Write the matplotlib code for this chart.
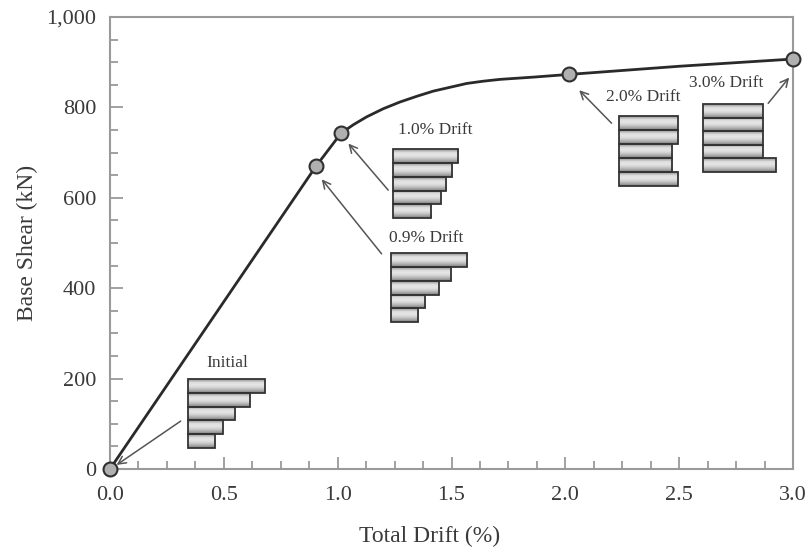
import numpy as np
import matplotlib
matplotlib.use("Agg")
import matplotlib.pyplot as plt
from matplotlib.patches import Rectangle
from matplotlib.ticker import MultipleLocator, FuncFormatter

# ---------------- data ----------------
curve_drift = [0.0, 0.905, 1.015, 1.07, 1.127, 1.20, 1.274, 1.35, 1.42, 1.567, 1.64, 1.713, 1.86, 2.017, 2.5, 3.0]
curve_shear = [0, 670, 743, 762, 779, 797, 812, 825, 836, 853, 858, 862, 867, 873, 891, 907]

point_drift = [0.0, 0.905, 1.015, 2.017, 3.0]
point_shear = [0, 670, 743, 873, 907]

labels = ["Initial", "0.9% Drift", "1.0% Drift", "2.0% Drift", "3.0% Drift"]
# relative story load profiles, top storey first
profiles = [
    [1.00, 0.80, 0.61, 0.45, 0.35],
    [1.00, 0.79, 0.63, 0.45, 0.36],
    [1.00, 0.91, 0.82, 0.73, 0.58],
    [1.00, 1.00, 0.90, 0.90, 1.00],
    [1.00, 1.00, 1.00, 1.00, 1.21],
]

x_ticks = [0.0, 0.5, 1.0, 1.5, 2.0, 2.5, 3.0]
y_ticks = [0, 200, 400, 600, 800, 1000]

# ---------------- layout (inset placement, in data coords) ----------------
# left, top, bottom, width of unit bar
inset_boxes = [
    (0.344, 199, 46.5, 0.337),
    (1.233, 477, 325, 0.334),
    (1.2415, 707, 555, 0.288),
    (2.237, 781, 627, 0.259),
    (2.606, 807.5, 658, 0.2635),
]
label_pos = [(0.514, 234), (1.388, 512), (1.427, 750), (2.342, 822), (2.708, 853)]
arrow_tail = [(0.3105, 106), (1.193, 476), (1.222, 617), (2.203, 765), (2.891, 809)]
arrow_head = [(0.029, 9), (0.930, 641), (1.047, 720), (2.061, 838), (2.983, 866)]

plt.rcParams['font.family'] = ['Liberation Serif', 'DejaVu Serif']

fig = plt.figure(figsize=(8.09, 5.54), dpi=100)
ax = fig.add_axes([110/809, 1-469/554, (793-110)/809, (469-17)/554])

spine_c = '#9a9a9a'
text_c = '#3a3a3a'

# insets
grad = np.array([0.66, 0.86, 0.90, 0.84, 0.72, 0.56]).reshape(-1, 1)
for (left, top, bottom, unit), prof in zip(inset_boxes, profiles):
    h = (top - bottom) / len(prof)
    for i, v in enumerate(prof):
        y1 = top - i * h
        y0 = y1 - h
        w = unit * v
        ax.imshow(grad, extent=[left, left + w, y0, y1], cmap='gray', vmin=0, vmax=1,
                  aspect='auto', interpolation='bilinear', zorder=2)
        ax.add_patch(Rectangle((left, y0), w, h, fill=False, edgecolor='#333333',
                               lw=1.3, zorder=3))

for lab, (lx, ly) in zip(labels, label_pos):
    ax.text(lx, ly, lab, ha='center', va='center', fontsize=12.5, color=text_c, zorder=4)

for (tx, ty), (hx, hy) in zip(arrow_tail, arrow_head):
    ax.annotate('', xy=(hx, hy), xytext=(tx, ty),
                arrowprops=dict(arrowstyle='->', color='#555555', lw=1.1,
                                mutation_scale=14, shrinkA=0, shrinkB=0),
                zorder=4, annotation_clip=False)

ax.plot(curve_drift, curve_shear, color='#2a2a2a', lw=2.0, zorder=5, clip_on=False)
ax.plot(point_drift, point_shear, 'o', ms=10, mfc='#b0b0b0', mec='#303030', mew=1.5,
        zorder=6, clip_on=False)

ax.set_xlim(0, 3.0)
ax.set_ylim(0, 1000)

ax.set_xticks(x_ticks)
ax.set_yticks(y_ticks)
ax.xaxis.set_minor_locator(MultipleLocator(0.125))
ax.yaxis.set_minor_locator(MultipleLocator(50))
ax.xaxis.set_major_formatter(FuncFormatter(lambda v, p: f"{v:.1f}"))
ax.yaxis.set_major_formatter(FuncFormatter(lambda v, p: f"{int(v):,}"))
ax.tick_params(which='both', direction='in', color=spine_c, width=1.3,
               labelsize=16, labelcolor=text_c, top=False, right=False)
ax.tick_params(which='major', length=9)
ax.tick_params(axis='x', which='major', pad=12)
ax.tick_params(axis='y', which='major', pad=10)
ax.tick_params(which='minor', length=6)

for s in ax.spines.values():
    s.set_color(spine_c)
    s.set_linewidth(1.5)

ax.set_xlabel('Total Drift (%)', fontsize=17, color=text_c, labelpad=16)
ax.xaxis.set_label_coords((430 - 110) / 683, -0.125)
ax.set_ylabel('Base Shear (kN)', fontsize=17, color=text_c, labelpad=6)

fig.savefig('out.png', dpi=100)
